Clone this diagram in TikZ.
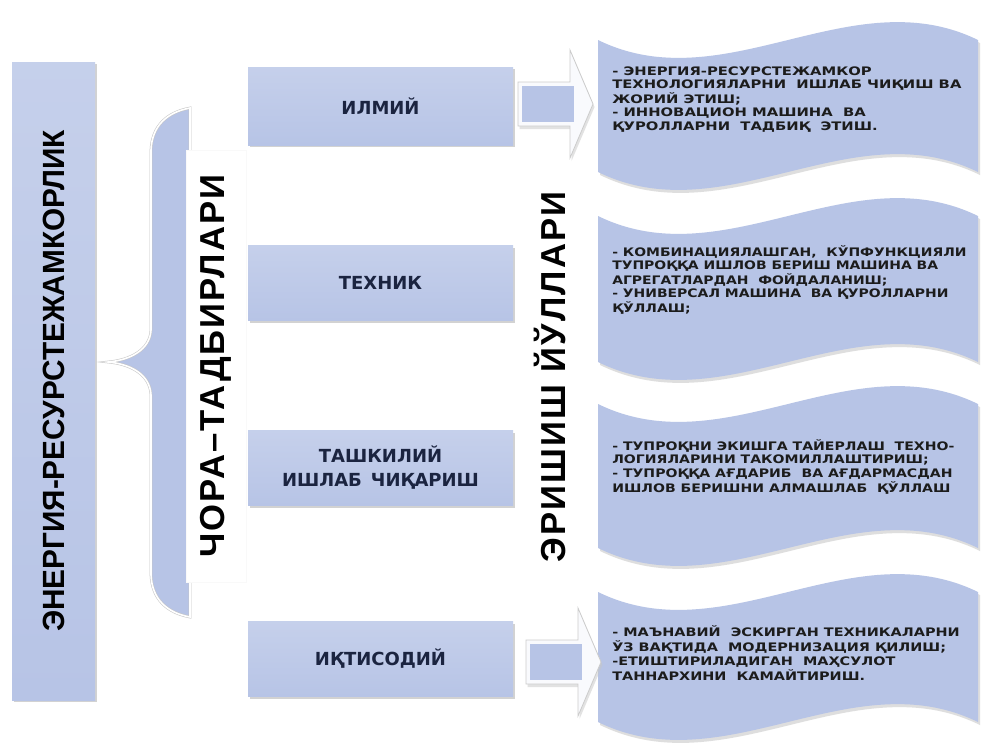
\documentclass[tikz,border=0pt]{standalone}
\usepackage{fontspec}
\setmainfont{Liberation Sans}
\newfontfamily\djsans{DejaVu Sans}
\newfontfamily\bigsp{Liberation Sans}[LetterSpace=6]
\usetikzlibrary{shadows}
\definecolor{boxblue}{HTML}{B7C4E6}
\definecolor{navy}{HTML}{1B2440}
\definecolor{inkk}{HTML}{1C1C1C}
\newcommand{\wavepath}[2]{(598,#1) .. controls (725,{#1+62}) and (851,{#1-62}) .. (978,#1) -- (978,#2) .. controls (851,{#2-62}) and (725,{#2+62}) .. (598,#2) -- cycle}
% block arrow drawn from a named tail coordinate: #1 = coordinate, #2 = shaft length
\newcommand{\blockarrowat}[2]{%
  \begin{scope}[shift={(#1)}]
    \path[arrowshadow] (0,-22) -- (#2,-22) -- (#2,-54) -- ({#2+23},0) -- (#2,54) -- (#2,22) -- (0,22) -- cycle;
    \path[arrowouter] (0,-22) -- (#2,-22) -- (#2,-54) -- ({#2+23},0) -- (#2,54) -- (#2,22) -- (0,22) -- cycle;
    \path[arrowshaft] (4,-18) rectangle ({#2+4},18);
  \end{scope}}
\tikzset{
  catbox/.style={top color=boxblue!80!white, bottom color=boxblue, draw=none,
    drop shadow={shadow xshift=1.2pt,shadow yshift=-1.5pt,fill=gray!70,opacity=.5},
    minimum width=198.75pt, minimum height=56.25pt, inner sep=0pt,
    font=\djsans\bfseries\fontsize{13.5}{18}\selectfont, text=navy, align=center},
  wtext/.style={font=\djsans\bfseries\fontsize{8.8}{10.1}\selectfont, text=inkk, inner sep=0pt, anchor=west},
  bigtext/.style={font=\bigsp\bfseries\fontsize{26}{30}\selectfont, text=black, rotate=90, inner sep=0pt},
  arrowouter/.style={fill=white!92!boxblue, draw=gray!40, line width=0.6pt, line join=miter},
  arrowshadow/.style={fill=gray!45, opacity=.5, shift={(1.5,3)}},
  arrowshaft/.style={fill=boxblue},
  wavefill/.style={fill=boxblue},
  waveshadow/.style={fill=gray!50, opacity=.5}
}
\begin{document}
\begin{tikzpicture}[x=0.75pt,y=-0.75pt]
\fill[white] (0,0) rectangle (981,744);
\useasboundingbox (0,0) rectangle (981,744);

% left box
\node[top color=boxblue!80!white, bottom color=boxblue, draw=none,
  drop shadow={shadow xshift=1.2pt,shadow yshift=-1.5pt,fill=gray!70,opacity=.5},
  minimum width=62.25pt, minimum height=478.5pt, inner sep=0pt] (L) at (53.5,381) {};
\node[font=\bfseries\fontsize{23}{26}\selectfont, rotate=90, inner sep=0pt] (Lt) at (L.center)
  {\scalebox{0.97}[1]{ЭНЕРГИЯ-РЕСУРСТЕЖАМКОРЛИК}};

% brace
\path[fill=boxblue, draw=gray!45, double=white, double distance=1.2pt]
  (190,108) .. controls (168,112) and (152,125) .. (151,150) -- (151,330)
  .. controls (150,350) and (130,360) .. (108,362)
  .. controls (130,364) and (150,374) .. (151,395) -- (151,575)
  .. controls (152,600) and (168,613) .. (190,617) -- cycle;

\node[bigtext, fill=white, draw=gray!5, minimum width=324pt, minimum height=45pt] (chora) at (216,366) {ЧОРА–ТАДБИРЛАРИ};
\node[bigtext] (erish) at (550,377) {ЭРИШИШ\hspace{0.35em}ЙЎЛЛАРИ};

% category boxes
\node[catbox, minimum height=58.5pt] (ilmiy) at (380.5,106) {ИЛМИЙ};
\node[catbox] (texnik) at (380.5,283) {ТЕХНИК};
\node[catbox] (tashkil) at (380.5,468) {ТАШКИЛИЙ\\ИШЛАБ\hspace{0.5em}ЧИҚАРИШ};
\node[catbox] (iqtisod) at (380.5,659) {ИҚТИСОДИЙ};

% wave boxes
\begin{scope}[shift={(2,3)}]
\path[waveshadow] \wavepath{40}{172};
\path[waveshadow] \wavepath{216}{362};
\path[waveshadow] \wavepath{404}{548};
\path[waveshadow] \wavepath{592}{722};
\end{scope}
\path[wavefill] \wavepath{40}{172};
\path[wavefill] \wavepath{216}{362};
\path[wavefill] \wavepath{404}{548};
\path[wavefill] \wavepath{592}{722};

\node[wtext] (w1) at (612,100) {\scalebox{1.26}[1]{\begin{tabular}{@{}l@{}}
- ЭНЕРГИЯ-РЕСУРСТЕЖАМКОР\\
ТЕХНОЛОГИЯЛАРНИ\ \ ИШЛАБ ЧИҚИШ ВА\\
ЖОРИЙ ЭТИШ;\\
- ИННОВАЦИОН МАШИНА\ \ ВА\\
ҚУРОЛЛАРНИ\ \ ТАДБИҚ\ \ ЭТИШ.
\end{tabular}}};
\node[wtext] (w2) at (612,281) {\scalebox{1.19}[1]{\begin{tabular}{@{}l@{}}
- КОМБИНАЦИЯЛАШГАН,\ \ КЎПФУНКЦИЯЛИ\\
ТУПРОҚҚА ИШЛОВ БЕРИШ МАШИНА ВА\\
АГРЕГАТЛАРДАН\ \ ФОЙДАЛАНИШ;\\
- УНИВЕРСАЛ МАШИНА\ \ ВА ҚУРОЛЛАРНИ\\
ҚЎЛЛАШ;
\end{tabular}}};
\node[wtext] (w3) at (612,468) {\scalebox{1.2}[1]{\begin{tabular}{@{}l@{}}
- ТУПРОҚНИ ЭКИШГА ТАЙЕРЛАШ\ \ ТЕХНО-\\
ЛОГИЯЛАРИНИ ТАКОМИЛЛАШТИРИШ;\\
- ТУПРОҚҚА АҒДАРИБ\ \ ВА АҒДАРМАСДАН\\
ИШЛОВ БЕРИШНИ АЛМАШЛАБ\ \ ҚЎЛЛАШ
\end{tabular}}};
\node[wtext] (w4) at (612,655) {\scalebox{1.23}[1]{\begin{tabular}{@{}l@{}}
- МАЪНАВИЙ\ \ ЭСКИРГАН ТЕХНИКАЛАРНИ\\
ЎЗ ВАҚТИДА\ \ МОДЕРНИЗАЦИЯ ҚИЛИШ;\\
-ЕТИШТИРИЛАДИГАН\ \ МАҲСУЛОТ\\
ТАННАРХИНИ\ \ КАМАЙТИРИШ.
\end{tabular}}};

% block arrows
\coordinate (a1) at (518,104);
\coordinate (a2) at (526,662);
\blockarrowat{a1}{52}
\blockarrowat{a2}{52}
\end{tikzpicture}
\end{document}
